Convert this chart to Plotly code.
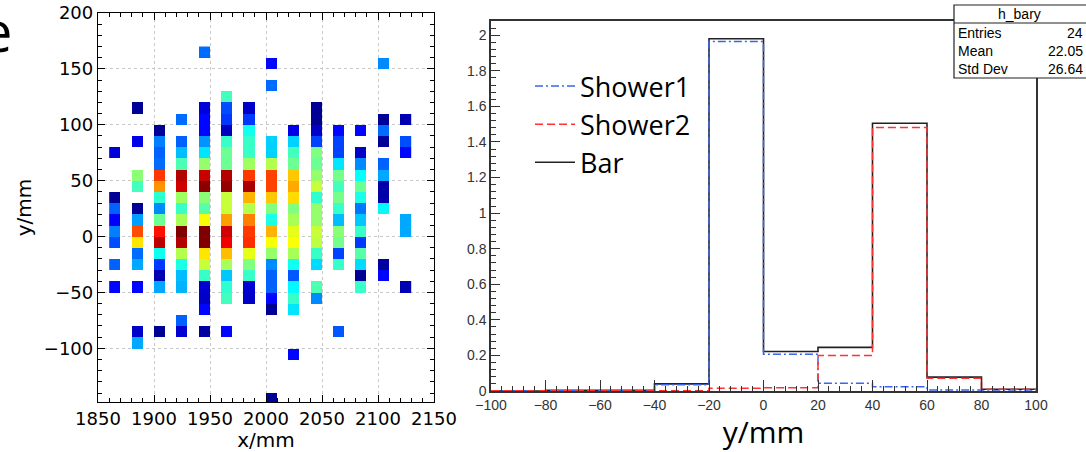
import numpy as np
import plotly.graph_objects as go

W, H = 1086, 452

# ---------------- left panel: 2D map of cells (x centre, y centre, colour value) -------------
cell_x = ([1865] * 8 + [1885] * 13 + [1905] * 16 + [1925] * 17 + [1945] * 21 + [1965] * 20 +
          [1985] * 18 + [2005] * 19 + [2025] * 18 + [2045] * 17 + [2065] * 14 + [2085] * 14 +
          [2105] * 11 + [2125] * 6)
cell_y = [
    75, 35, 25, 15, 5, -5, -25, -45,
    115, 85, 55, 45, 25, 15, 5, -5, -15, -25, -45, -85, -95,
    95, 85, 75, 65, 55, 45, 35, 25, 15, 5, -5, -15, -25, -35, -45, -85,
    105, 85, 75, 65, 55, 45, 35, 25, 15, 5, -5, -15, -25, -35, -45, -75, -85,
    165, 115, 105, 95, 85, 75, 65, 55, 45, 35, 25, 15, 5, -5, -15, -25, -35, -45, -55, -65, -85,
    125, 115, 105, 95, 85, 75, 65, 55, 45, 35, 25, 15, 5, -5, -15, -25, -35, -45, -55, -85,
    115, 105, 95, 85, 75, 65, 55, 45, 35, 25, 15, 5, -5, -15, -25, -35, -45, -55,
    155, 135, 85, 75, 65, 55, 45, 35, 25, 15, 5, -5, -15, -25, -35, -45, -55, -65, -145,
    95, 85, 75, 65, 55, 45, 35, 25, 15, 5, -5, -15, -25, -35, -45, -55, -65, -105,
    115, 105, 95, 85, 75, 65, 55, 45, 35, 25, 15, 5, -5, -15, -25, -45, -55,
    95, 85, 75, 65, 55, 45, 35, 25, 15, 5, -5, -15, -25, -85,
    95, 75, 65, 55, 45, 35, 25, 15, 5, -5, -15, -25, -35, -45,
    155, 105, 95, 85, 65, 55, 45, 35, 25, -25, -35,
    105, 85, 75, 15, 5, -45,
]
cell_z = [
    9, 2, 22, 12, 25, 20, 22, 13,
    2, 10, 51, 44, 2, 28, 80, 65, 23, 29, 13, 7, 29,
    2, 25, 22, 23, 82, 73, 42, 26, 48, 86, 94, 39, 18, 5, 29, 2,
    23, 22, 31, 45, 95, 92, 53, 43, 54, 100, 95, 55, 40, 31, 30, 22, 8,
    23, 9, 13, 13, 27, 35, 52, 93, 99, 51, 46, 62, 100, 100, 65, 57, 43, 8, 7, 13, 3,
    44, 20, 18, 6, 43, 48, 48, 95, 98, 57, 57, 72, 92, 89, 69, 54, 32, 42, 44, 13,
    7, 18, 39, 43, 43, 53, 82, 96, 70, 55, 75, 82, 83, 60, 50, 43, 8, 7,
    13, 23, 33, 33, 55, 81, 81, 68, 50, 40, 70, 62, 52, 26, 22, 22, 13, 2, 2,
    10, 33, 44, 48, 68, 71, 66, 50, 54, 60, 62, 54, 39, 21, 37, 43, 35, 13,
    2, 2, 7, 19, 50, 48, 52, 57, 42, 52, 52, 57, 56, 43, 34, 45, 26,
    13, 19, 19, 35, 49, 44, 49, 43, 31, 51, 49, 19, 43, 21,
    13, 7, 26, 38, 48, 40, 24, 32, 43, 18, 46, 34, 2, 43,
    26, 2, 23, 2, 22, 29, 4, 4, 37, 3, 13,
    5, 20, 13, 29, 29, 5,
]

# ---------------- right panel: histograms ----------------
bin_edges = [-100, -80, -60, -40, -20, 0, 20, 40, 60, 80, 100]
bar_vals = [0.0, 0.004, 0.004, 0.04, 1.98, 0.222, 0.245, 1.505, 0.078, 0.01]
shower1_vals = [0.002, 0.002, 0.002, 0.035, 1.965, 0.206, 0.043, 0.024, 0.005, 0.0]
shower2_vals = [0.002, 0.002, 0.002, 0.002, 0.015, 0.018, 0.199, 1.481, 0.072, 0.01]

stat_labels = ["Entries", "Mean", "Std Dev"]
stat_values = ["24", "22.05", "26.64"]


def px(x):
    return x / W


def py(y):
    return 1 - y / H


# build heatmap grid (10 mm cells)
xc = np.arange(1865, 2126, 10)
yc = np.arange(-145, 166, 10)
grid = np.full((len(yc), len(xc)), np.nan)
for x, y, z in zip(cell_x, cell_y, cell_z):
    grid[int(round((y - yc[0]) / 10)), int(round((x - xc[0]) / 10))] = z

jet = [
    [0.0, "rgb(0,0,128)"], [0.125, "rgb(0,0,255)"], [0.375, "rgb(0,255,255)"],
    [0.625, "rgb(255,255,0)"], [0.875, "rgb(255,0,0)"], [1.0, "rgb(128,0,0)"],
]

fig = go.Figure()
fig.add_trace(go.Heatmap(x=xc, y=yc, z=grid, colorscale=jet, zmin=0, zmax=100,
                         showscale=False, hoverongaps=False, xaxis="x", yaxis="y",
                         showlegend=False))


def step(vals):
    return list(vals) + [vals[-1]]


fig.add_trace(go.Scatter(x=bin_edges, y=step(bar_vals), mode="lines", line_shape="hv",
                         name="Bar", line=dict(color="#222222", width=1.6),
                         xaxis="x2", yaxis="y2", legendrank=3))
fig.add_trace(go.Scatter(x=bin_edges, y=step(shower1_vals), mode="lines", line_shape="hv",
                         name="Shower1", line=dict(color="rgb(60,100,240)", width=1.5,
                                                   dash="8px,3px,2px,3px"),
                         xaxis="x2", yaxis="y2", legendrank=1))
fig.add_trace(go.Scatter(x=bin_edges, y=step(shower2_vals), mode="lines", line_shape="hv",
                         name="Shower2", line=dict(color="rgb(255,50,50)", width=1.5,
                                                   dash="8px,4px"),
                         xaxis="x2", yaxis="y2", legendrank=2))

left_tick_font = dict(family="DejaVu Sans", size=18, color="black")
common_left = dict(showline=True, linecolor="black", linewidth=1.3, mirror="allticks",
                   ticks="inside", ticklen=7, tickcolor="black", tickwidth=1,
                   showgrid=True, gridcolor="#c8c8c8", griddash="dot", gridwidth=1,
                   zeroline=False, tickfont=left_tick_font, automargin=False,
                   layer="above traces")

right_tick_font = dict(family="Liberation Sans", size=14, color="#333333")
common_right = dict(showline=True, linecolor="#333333", linewidth=1.5, mirror=True,
                    ticks="inside", tickcolor="#333333", tickwidth=1,
                    showgrid=False, zeroline=False, tickfont=right_tick_font,
                    automargin=False, layer="above traces")

minor_left = dict(ticks="inside", ticklen=4, tickcolor="black", showgrid=False)
minor_right = dict(ticks="inside", ticklen=5, tickcolor="#333333", showgrid=False)

fig.update_layout(
    width=W, height=H, margin=dict(l=0, r=0, t=0, b=0, autoexpand=False),
    paper_bgcolor="white", plot_bgcolor="white",
    xaxis=dict(domain=[px(98), px(434)], range=[1850, 2150], dtick=50, tick0=0,
               anchor="y", minor=dict(minor_left, dtick=10),
               title=dict(text="x/mm", font=dict(family="DejaVu Sans", size=20, color="black"),
                          standoff=2),
               **common_left),
    yaxis=dict(domain=[py(402), py(13)], range=[-148, 200], dtick=50, tick0=0,
               anchor="x", minor=dict(minor_left, dtick=10),
               title=dict(text="y/mm", font=dict(family="DejaVu Sans", size=20, color="black"),
                          standoff=6),
               **common_left),
    xaxis2=dict(domain=[px(491), px(1036)], range=[-100, 100], dtick=20, tick0=0,
                anchor="y2", minor=dict(minor_right, dtick=4), ticklen=11,
                title=dict(text="y/mm", font=dict(family="Open Sans", size=30, color="black"),
                           standoff=2),
                **common_right),
    yaxis2=dict(domain=[py(391), py(21)], range=[0, 2.08], dtick=0.2, tick0=0,
                anchor="x2", minor=dict(minor_right, dtick=0.04), ticklen=9,
                **common_right),
    legend=dict(x=px(530), y=py(62), xanchor="left", yanchor="top",
                bgcolor="rgba(0,0,0,0)", font=dict(family="Open Sans", size=27, color="black"),
                itemwidth=40, tracegroupgap=0),
    showlegend=True,
)

# stat box
box_l, box_r, box_t, box_m, box_b = 954, 1096, 5, 23, 78
fig.add_shape(type="rect", xref="paper", yref="paper", x0=px(box_l), x1=px(box_r),
              y0=py(box_b), y1=py(box_t), line=dict(color="#222", width=1.2),
              fillcolor="white", layer="above")
fig.add_shape(type="line", xref="paper", yref="paper", x0=px(box_l), x1=px(box_r),
              y0=py(box_m), y1=py(box_m), line=dict(color="#222", width=1.2), layer="above")
stat_font = dict(family="Liberation Sans", size=14, color="black")
fig.add_annotation(xref="paper", yref="paper", x=px(1019), y=py(14), text="h_bary",
                   showarrow=False, xanchor="center", yanchor="middle", font=stat_font)
for i, (lab, val) in enumerate(zip(stat_labels, stat_values)):
    yy = py(33 + 18 * i)
    fig.add_annotation(xref="paper", yref="paper", x=px(956), y=yy, text=lab,
                       showarrow=False, xanchor="left", yanchor="middle", font=stat_font)
    fig.add_annotation(xref="paper", yref="paper", x=px(1085), y=yy, text=val,
                       showarrow=False, xanchor="right", yanchor="middle", font=stat_font)

# cut-off panel letter at the top-left edge (as in the reference)
fig.add_annotation(xref="paper", yref="paper", x=px(14), y=py(30), text="e",
                   showarrow=False, xanchor="right", yanchor="middle",
                   font=dict(family="Open Sans", size=56, color="black"))

fig.write_html("out.html")
